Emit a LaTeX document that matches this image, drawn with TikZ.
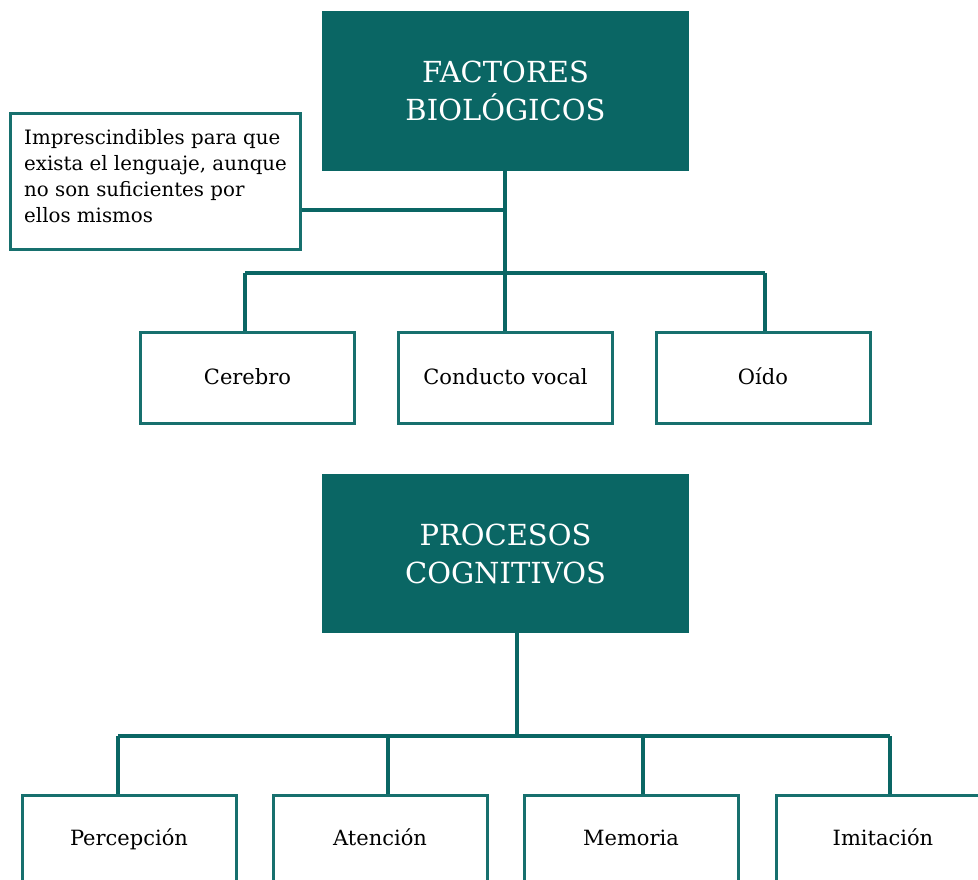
\documentclass[tikz,border=0pt]{standalone}
\usepackage{fontspec}
\setmainfont{DejaVu Serif}
\definecolor{teal1}{HTML}{0A6664}
\definecolor{teal2}{HTML}{17706E}
\begin{document}
\begin{tikzpicture}[x=1pt,y=-1pt,
  head/.style={draw=none,fill=teal1,minimum width=367pt,minimum height=160pt,inner sep=0pt,
    text=white,align=center,font=\fontsize{29}{38}\selectfont},
  leaf/.style={draw=teal2,line width=3pt,fill=white,minimum width=214pt,minimum height=91pt,inner sep=0pt,
    text height=15pt,text depth=5pt,font=\fontsize{21}{25}\selectfont},
  notebox/.style={draw=teal2,line width=3pt,fill=white,minimum width=290pt,minimum height=136pt,inner sep=0pt},
  conn/.style={draw=teal1,line width=3.8pt}]
\useasboundingbox (0,0) rectangle (978,879);
\coordinate (j1) at (505,210);
\coordinate (b1) at (245,273);
\coordinate (b2) at (505,273);
\coordinate (b3) at (765,273);
\coordinate (c0) at (517,736);
\coordinate (c1) at (118,736);
\coordinate (c2) at (388,736);
\coordinate (c3) at (643,736);
\coordinate (c4) at (890,736);
% nodes
\node[head] (fb) at (505.5,91) {FACTORES\\BIOLÓGICOS};
\node[notebox] (note) at (155,181) {};
\node[anchor=north west,inner sep=0pt,align=left,font=\fontsize{19.8}{26}\selectfont] (notetext) at (24,129)
  {Imprescindibles para que\\exista el lenguaje, aunque\\no son suficientes por\\ellos mismos};
\node[leaf] (cer) at (247.5,377.5) {\raisebox{-2pt}{Cerebro}};
\node[leaf] (con) at (505.5,377.5) {\raisebox{-2pt}{Conducto vocal}};
\node[leaf] (oid) at (763,377.5) {\raisebox{-2pt}{Oído}};
\node[head,minimum height=159pt] (pc) at (505.5,553.5) {PROCESOS\\COGNITIVOS};
\node[leaf] (per) at (129,840.5) {Percepción};
\node[leaf] (ate) at (380,840.5) {Atención};
\node[leaf] (mem) at (631,840.5) {Memoria};
\node[leaf] (imi) at (883,840.5) {Imitación};
% top tree
\draw[conn] (fb.south -| b2) -- (b2 |- con.north);
\draw[conn] (note.east |- j1) -- (j1);
\draw[conn] (b1) -- (b3);
\draw[conn] (b1) -- (b1 |- cer.north);
\draw[conn] (b3) -- (b3 |- oid.north);
% bottom tree
\draw[conn] (pc.south -| c0) -- (c0);
\draw[conn] (c1) -- (c4);
\draw[conn] (c1) -- (c1 |- per.north);
\draw[conn] (c2) -- (c2 |- ate.north);
\draw[conn] (c3) -- (c3 |- mem.north);
\draw[conn] (c4) -- (c4 |- imi.north);
\end{tikzpicture}
\end{document}
